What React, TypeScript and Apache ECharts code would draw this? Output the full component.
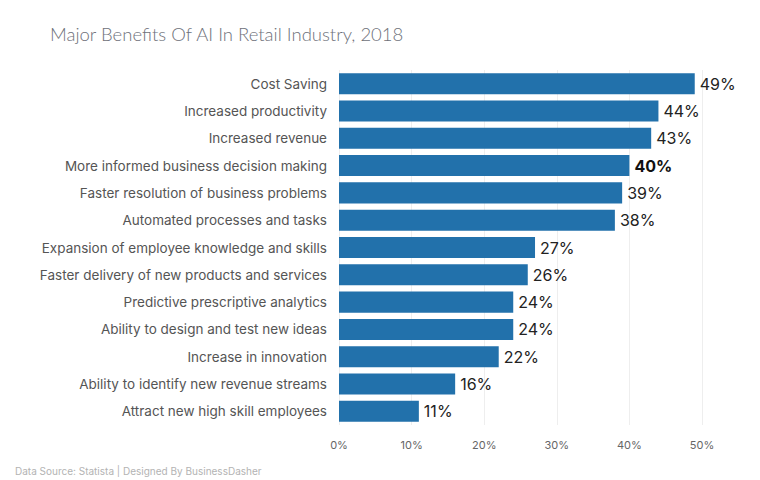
import React, { useEffect, useRef } from "react";
import * as echarts from "echarts";

const categories = [
  "Cost Saving",
  "Increased productivity",
  "Increased revenue",
  "More informed business decision making",
  "Faster resolution of business problems",
  "Automated processes and tasks",
  "Expansion of employee knowledge and skills",
  "Faster delivery of new products and services",
  "Predictive prescriptive analytics",
  "Ability to design and test new ideas",
  "Increase in innovation",
  "Ability to identify new revenue streams",
  "Attract new high skill employees",
];
const values = [49, 44, 43, 40, 39, 38, 27, 26, 24, 24, 22, 16, 11];
const boldCategory = "More informed business decision making";

const titleText = "Major Benefits Of AI In Retail Industry, 2018";
const footerText = "Data Source: Statista | Designed By BusinessDasher";

export default function App() {
  const ref = useRef<HTMLDivElement>(null);
  useEffect(() => {
    if (!ref.current) return;
    const chart = echarts.init(ref.current, null, { renderer: "svg" });
    const cats = [...categories].reverse();
    const vals = [...values].reverse();
    chart.setOption({
      animation: false,
      backgroundColor: "#ffffff",
      textStyle: { fontFamily: "Inter" },
      title: [
        {
          text: titleText,
          left: 45,
          top: 19,
          textStyle: {
            fontFamily: "Lato",
            fontSize: 18.5,
            fontWeight: 300,
            color: "#6e717a",
          },
        },
        {
          text: footerText,
          left: 10,
          top: 461,
          textStyle: {
            fontFamily: "Inter",
            fontSize: 10,
            fontWeight: 400,
            color: "#b3b3b3",
          },
        },
      ],
      grid: { left: 339, right: 58, top: 70, bottom: 55, containLabel: false },
      xAxis: {
        type: "value",
        min: 0,
        max: 50,
        interval: 10,
        axisLabel: {
          formatter: "{value}%",
          color: "#666",
          fontSize: 11,
          margin: 14,
        },
        axisLine: { show: false },
        axisTick: { show: false },
        splitLine: { lineStyle: { color: "#eeeeee", width: 1 } },
      },
      yAxis: {
        type: "category",
        data: cats,
        axisLine: { show: false },
        axisTick: { show: false },
        axisLabel: { color: "#555", fontSize: 13.5, margin: 12 },
      },
      series: [
        {
          type: "bar",
          data: vals.map((v, i) => ({
            value: v,
            label:
              cats[i] === boldCategory
                ? { fontWeight: "bold", color: "#111" }
                : undefined,
          })),
          barCategoryGap: "23%",
          itemStyle: { color: "#2271ab" },
          label: {
            show: true,
            position: "right",
            distance: 5,
            formatter: "{c}%",
            fontSize: 16,
            color: "#222",
            fontFamily: "Inter",
          },
        },
      ],
    });
    return () => chart.dispose();
  }, []);
  return (
    <div
      ref={ref}
      style={{ position: "absolute", left: 0, top: 0, width: 760, height: 480 }}
    />
  );
}
